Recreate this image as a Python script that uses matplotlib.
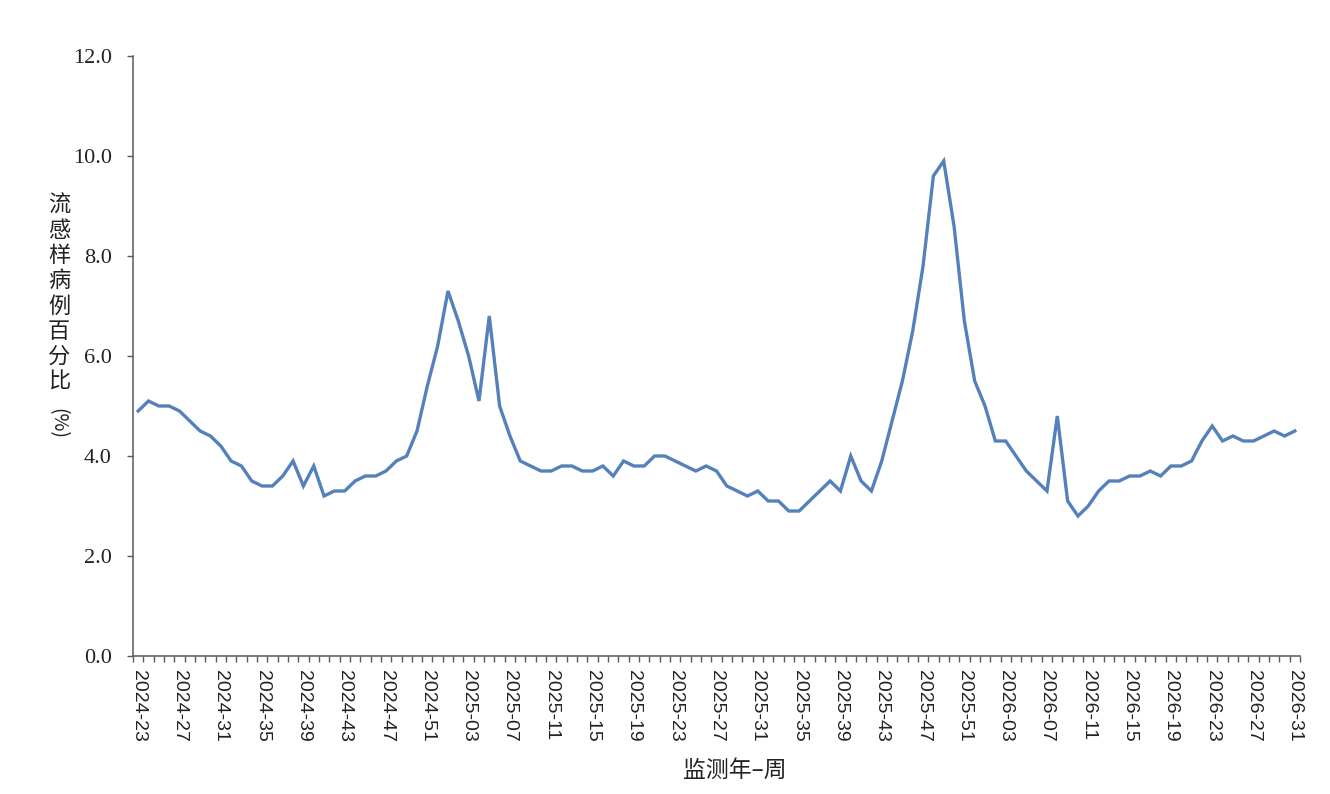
import numpy as np
import matplotlib
matplotlib.use('Agg')
import matplotlib.pyplot as plt
from matplotlib.ticker import FixedLocator, FormatStrFormatter

# weekly ILI percentage, 2024-23 .. 2026-31
weeks_2024 = list(range(23, 53))
weeks_2025 = list(range(1, 53))
weeks_2026 = list(range(1, 32))

ili_2024 = [4.9, 5.1, 5.0, 5.0, 4.9, 4.7, 4.5, 4.4, 4.2, 3.9,
            3.8, 3.5, 3.4, 3.4, 3.6, 3.9, 3.4, 3.8, 3.2, 3.3,
            3.3, 3.5, 3.6, 3.6, 3.7, 3.9, 4.0, 4.5, 5.4, 6.2]
ili_2025 = [7.3, 6.7, 6.0, 5.1, 6.8, 5.0, 4.4, 3.9, 3.8, 3.7,
            3.7, 3.8, 3.8, 3.7, 3.7, 3.8, 3.6, 3.9, 3.8, 3.8,
            4.0, 4.0, 3.9, 3.8, 3.7, 3.8, 3.7, 3.4, 3.3, 3.2,
            3.3, 3.1, 3.1, 2.9, 2.9, 3.1, 3.3, 3.5, 3.3, 4.0,
            3.5, 3.3, 3.9, 4.7, 5.5, 6.5, 7.8, 9.6, 9.9, 8.6,
            6.7, 5.5]
ili_2026 = [5.0, 4.3, 4.3, 4.0, 3.7, 3.5, 3.3, 4.8, 3.1, 2.8,
            3.0, 3.3, 3.5, 3.5, 3.6, 3.6, 3.7, 3.6, 3.8, 3.8,
            3.9, 4.3, 4.6, 4.3, 4.4, 4.3, 4.3, 4.4, 4.5, 4.4,
            4.5]

labels = ([f'2024-{w:02d}' for w in weeks_2024] +
          [f'2025-{w:02d}' for w in weeks_2025] +
          [f'2026-{w:02d}' for w in weeks_2026])
values = ili_2024 + ili_2025 + ili_2026
x = np.arange(len(values))

line_color = '#5480BC'
axis_color = '#595959'

fig = plt.figure(figsize=(13.3, 7.94), dpi=100)
ax = fig.add_axes([133/1330, 1 - 656/794, (1300-133)/1330, 600/794])

ax.plot(x, values, color=line_color, lw=2.4, solid_joinstyle='miter')

ax.set_xlim(-0.5, len(values) - 0.5)
ax.set_ylim(0, 12)

for s in ['top', 'right']:
    ax.spines[s].set_visible(False)
for s in ['left', 'bottom']:
    ax.spines[s].set_color(axis_color)
    ax.spines[s].set_linewidth(1.1)

# y axis
ax.set_yticks(np.arange(0, 12.1, 2))
ax.yaxis.set_major_formatter(FormatStrFormatter('%.1f'))
ax.tick_params(axis='y', direction='out', length=4.3, width=1.0,
               color=axis_color, pad=11, labelsize=16)
for t in ax.get_yticklabels():
    t.set_fontfamily('Liberation Serif')
    t.set_color('#222222')

# x axis: labels on every 4th week, tick marks on category boundaries
ax.set_xticks(x[::4])
ax.set_xticklabels(labels[::4], rotation=-90, fontfamily='Liberation Sans',
                   fontsize=14, color='#222222')
ax.xaxis.set_minor_locator(FixedLocator(np.arange(-0.5, len(values), 1)))
ax.tick_params(axis='x', which='major', length=0, pad=10)
ax.tick_params(axis='x', which='minor', direction='out', length=4.3,
               width=1.0, color=axis_color)

# y label, written vertically
cjk = ['Noto Sans CJK SC', 'DejaVu Sans']
ylab = '流感样病例百分比'
for i, ch in enumerate(ylab):
    fig.text(59/1330, 1 - (205 + i*25.2)/794, ch, fontsize=16, family=cjk,
             ha='center', va='center', color='#222222')
fig.text(58/1330, 1 - 424/794, '(%)', fontsize=14, family=cjk,
         rotation=-90, ha='center', va='center', color='#222222')

fig.text(735/1330, 1 - 770/794, '监测年–周', fontsize=16.5, family=cjk,
         ha='center', va='center', color='#222222', weight='medium')

fig.savefig('out.png', dpi=100)
